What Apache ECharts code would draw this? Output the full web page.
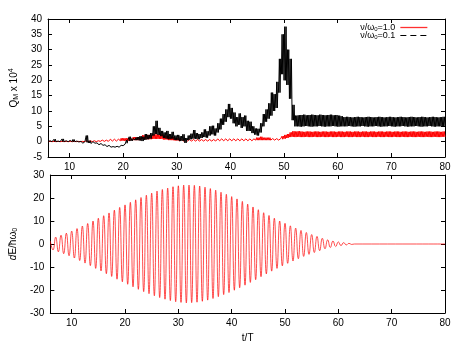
<!DOCTYPE html>
<html>
<head>
<meta charset="utf-8">
<script src="https://cdn.jsdelivr.net/npm/echarts@6.0.0/dist/echarts.min.js"></script>
<style>
  html, body { margin: 0; padding: 0; background: #fff; }
  #chart { width: 463px; height: 348px; }
</style>
</head>
<body>
<div id="chart"></div>
<script>
// sample times for the upper panel (t/T)
var qT = [
  6, 6.5, 7, 7.5, 8, 8.5, 9, 9.5, 10, 10.5, 11, 11.5, 12, 12.5, 13, 13.5, 14, 14.5, 15, 15.5,
  16, 16.5, 17, 17.5, 18, 18.5, 19, 19.5, 20, 20.5, 21, 21.5, 22, 22.5, 23, 23.5, 24, 24.5, 25, 25.5,
  26, 26.5, 27, 27.5, 28, 28.5, 29, 29.5, 30, 30.5, 31, 31.5, 32, 32.5, 33, 33.5, 34, 34.5, 35, 35.5,
  36, 36.5, 37, 37.5, 38, 38.5, 39, 39.5, 40, 40.5, 41, 41.5, 42, 42.5, 43, 43.5, 44, 44.5, 45, 45.5,
  46, 46.5, 47, 47.5, 48, 48.5, 49, 49.5, 50, 50.5, 51, 51.5, 52, 52.5, 53, 53.5, 54, 54.5, 55, 55.5,
  56, 56.5, 57, 57.5, 58, 58.5, 59, 59.5, 60, 60.5, 61, 61.5, 62, 62.5, 63, 63.5, 64, 64.5, 65, 65.5,
  66, 66.5, 67, 67.5, 68, 68.5, 69, 69.5, 70, 70.5, 71, 71.5, 72, 72.5, 73, 73.5, 74, 74.5, 75, 75.5,
  76, 76.5, 77, 77.5, 78, 78.5, 79, 79.5, 80
]

// nu/omega0 = 0.1 (black): lower / upper edge of the fast oscillation, Q_M x 10^4
var blackLo = [
  0, 0, 0, 0, 0, 0, 0, 0, 0, 0, 0, -0.1, -0.2, -0.5, -0.2, -0.4, -0.6, -0.5, -0.8, -1.0,
  -1.2, -1.4, -1.6, -1.8, -1.9, -1.8, -1.8, -1.6, -1.3, -0.5, 0.2, 0.3, 0.5, 0.5, 0.4, 0.2, 0.6, 0.8, 1.0, 2.0,
  2.5, 2.2, 1.8, 1.2, 1.0, 0.8, 1.0, 0.6, 0.5, 0.2, 0.3, -0.4, 0.5, 0.8, 1.0, 0.9, 0.8, 1.2, 1.5, 1.3,
  2.0, 2.4, 2.0, 3.0, 4.0, 5.5, 6.5, 8.0, 7.5, 6.0, 5.0, 5.5, 4.5, 5.0, 3.5, 3.5, 2.8, 2.3, 2.0, 3.0,
  5.0, 6.5, 7.5, 8.5, 10.0, 11.0, 16.0, 22.0, 20.0, 18.5, 14.0, 7.0, 5.0, 5.0, 4.9, 5.0, 5.1, 5.0, 4.9, 5.0,
  5.0, 5.1, 5.0, 4.9, 5.0, 5.0, 5.1, 5.0, 4.9, 5.0, 5.0, 5.0, 5.1, 5.0, 4.9, 5.0, 5.0, 5.1, 5.0, 4.9,
  5.0, 5.0, 5.1, 5.0, 4.9, 5.0, 5.0, 5.1, 5.0, 4.9, 5.0, 5.0, 5.1, 5.0, 4.9, 5.0, 5.0, 5.1, 5.0, 4.9,
  5.0, 5.0, 5.1, 5.0, 4.9, 5.0, 5.0, 5.1, 5.0
]
var blackHi = [
  0.3, 0.2, 0.8, 0.2, 0.3, 0.9, 0.3, 0.2, 0.4, 0.7, 0.2, 0.1, 0.1, 0, 2.0, 0.3, 0, -0.1, -0.4, -0.6,
  -0.8, -1.0, -1.2, -1.4, -1.6, -1.5, -1.4, -1.2, -0.8, 0.5, 1.6, 1.0, 1.3, 1.5, 1.8, 1.6, 2.5, 2.2, 2.8, 5.0,
  6.8, 4.5, 3.5, 3.0, 3.5, 2.5, 3.2, 2.0, 2.2, 1.8, 2.4, 1.2, 2.0, 2.6, 3.8, 2.8, 2.5, 3.0, 4.0, 3.4,
  5.0, 5.2, 4.3, 6.0, 7.5, 9.0, 10.5, 12.3, 11.0, 9.5, 8.0, 9.2, 8.0, 8.5, 6.8, 6.5, 5.0, 4.3, 4.2, 6.0,
  9.0, 10.5, 12.5, 16.0, 15.5, 19.5, 27.0, 35.0, 37.5, 30.0, 27.0, 12.0, 8.5, 8.6, 8.7, 8.8, 8.6, 8.7, 8.8, 8.7,
  8.6, 8.8, 8.7, 8.6, 8.7, 8.8, 8.6, 8.7, 8.5, 8.3, 8.0, 8.1, 8.0, 7.9, 8.0, 8.1, 8.0, 7.9, 8.0, 8.1,
  8.0, 7.9, 8.0, 8.1, 8.0, 7.9, 8.0, 8.1, 8.0, 7.9, 8.0, 8.1, 8.0, 7.9, 8.0, 8.1, 8.0, 7.9, 8.0, 8.1,
  8.0, 7.9, 8.0, 8.1, 8.0, 7.9, 8.0, 8.1, 8.0
]

// nu/omega0 = 1.0 (red): lower / upper edge
var redLo = [
  0, 0, 0, 0, 0, 0, 0, 0, 0, 0, 0, 0, 0, 0, 0, 0, 0, 0, 0, 0.1,
  0.1, 0.1, 0.1, 0.2, 0.2, 0.2, 0.2, 0.3, 0.3, 0.3, 0.3, 0.5, 0.5, 0.5, 0.5, 0.8, 0.8, 0.8, 0.8, 0.9,
  0.9, 0.9, 0.9, 0.7, 0.7, 0.5, 0.5, 0.4, 0.4, 0.2, 0.2, 0.2, 0.2, 0.2, 0.2, 0.2, 0.2, 0.2, 0.2, 0.2,
  0.2, 0.2, 0.2, 0.3, 0.3, 0.3, 0.3, 0.3, 0.3, 0.3, 0.3, 0.3, 0.3, 0.3, 0.3, 0.3, 0.3, 0.5, 0.5, 0.5,
  0.5, 0.5, 0.5, 0.5, 0.5, 0.5, 0.5, 0.8, 1.0, 1.2, 1.5, 1.6, 1.5, 1.6, 1.5, 1.5, 1.6, 1.5, 1.5, 1.6,
  1.5, 1.5, 1.6, 1.5, 1.5, 1.6, 1.5, 1.5, 1.6, 1.5, 1.5, 1.6, 1.5, 1.5, 1.6, 1.5, 1.5, 1.6, 1.5, 1.5,
  1.6, 1.5, 1.5, 1.6, 1.5, 1.5, 1.6, 1.5, 1.5, 1.6, 1.5, 1.5, 1.6, 1.5, 1.5, 1.6, 1.5, 1.5, 1.6, 1.5,
  1.5, 1.6, 1.5, 1.5, 1.6, 1.5, 1.5, 1.6, 1.5
]
var redHi = [
  0.1, 0.1, 0.1, 0.1, 0.1, 0.1, 0.1, 0.1, 0.1, 0.1, 0.1, 0.1, 0.1, 0.3, 0.3, 0.3, 0.3, 0.3, 0.3, 0.5,
  0.5, 0.5, 0.5, 0.8, 0.8, 0.8, 0.8, 1.1, 1.1, 1.1, 1.1, 1.5, 1.5, 1.5, 1.5, 2.1, 2.1, 2.2, 2.1, 2.4,
  2.4, 2.3, 2.4, 1.9, 1.9, 1.5, 1.5, 1.1, 1.1, 0.7, 0.7, 0.7, 0.7, 0.7, 0.7, 0.7, 0.7, 0.7, 0.7, 0.7,
  0.7, 0.7, 0.7, 0.9, 0.9, 0.9, 0.9, 0.9, 0.9, 0.9, 0.9, 0.9, 0.9, 0.9, 0.9, 0.9, 0.9, 1.3, 1.3, 1.6,
  1.3, 1.3, 1.3, 1.0, 1.0, 1.0, 1.0, 1.8, 2.2, 2.5, 3.0, 3.4, 3.3, 3.4, 3.3, 3.2, 3.3, 3.3, 3.2, 3.3,
  3.3, 3.2, 3.3, 3.3, 3.2, 3.3, 3.3, 3.2, 3.3, 3.3, 3.2, 3.3, 3.3, 3.2, 3.3, 3.3, 3.2, 3.3, 3.3, 3.2,
  3.3, 3.3, 3.2, 3.3, 3.3, 3.2, 3.3, 3.3, 3.2, 3.3, 3.3, 3.2, 3.3, 3.3, 3.2, 3.3, 3.3, 3.2, 3.3, 3.3,
  3.2, 3.3, 3.3, 3.2, 3.3, 3.3, 3.2, 3.3, 3.3
]

// lower panel: extrema of dE/hbar omega0 and their times
var dET = [
  6, 6.5, 7, 7.5, 8, 8.5, 9, 9.5, 10, 10.5, 11, 11.5, 12, 12.5, 13, 13.5, 14, 14.5, 15, 15.5,
  16, 16.5, 17, 17.5, 18, 18.5, 19, 19.5, 20, 20.5, 21, 21.5, 22, 22.5, 23, 23.5, 24, 24.5, 25, 25.5,
  26, 26.5, 27, 27.5, 28, 28.5, 29, 29.5, 30, 30.5, 31, 31.5, 32, 32.5, 33, 33.5, 34, 34.5, 35, 35.5,
  36, 36.5, 37, 37.5, 38, 38.5, 39, 39.5, 40, 40.5, 41, 41.5, 42, 42.5, 43, 43.5, 44, 44.5, 45, 45.5,
  46, 46.5, 47, 47.5, 48, 48.5, 49, 49.5, 50, 50.5, 51, 51.5, 52, 52.5, 53, 53.5, 54, 54.5, 55, 55.5,
  56, 56.5, 57, 57.5, 58, 58.5, 59, 59.5, 60, 60.5, 61, 61.5, 62, 62.5, 63, 80
]
var dEV = [
  1.2, -2.6, 3.0, -3.4, 3.8, -4.2, 4.7, -5.1, 5.6, -6.1, 6.7, -7.2, 7.8, -8.3, 8.9, -9.4, 10.0, -10.6, 11.2, -11.7,
  12.3, -12.9, 13.5, -14.1, 14.7, -15.3, 15.9, -16.4, 17.0, -17.5, 18.1, -18.6, 19.2, -19.7, 20.2, -20.7, 21.2, -21.6, 22.1, -22.5,
  23.0, -23.3, 23.7, -24.0, 24.3, -24.6, 24.9, -25.1, 25.3, -25.4, 25.6, -25.6, 25.6, -25.5, 25.5, -25.3, 25.2, -24.9, 24.7, -24.4,
  24.1, -23.7, 23.4, -22.9, 22.5, -22.0, 21.6, -21.1, 20.6, -20.1, 19.6, -19.0, 18.5, -17.9, 17.3, -16.7, 16.1, -15.5, 14.9, -14.2,
  13.6, -13.0, 12.4, -11.8, 11.2, -10.6, 10.0, -9.5, 9.0, -8.4, 7.9, -7.4, 6.9, -6.4, 5.9, -5.4, 5.0, -4.5, 4.1, -3.7,
  3.3, -2.9, 2.5, -2.1, 1.8, -1.5, 1.3, -1.1, 0.9, -0.7, 0.6, -0.4, 0.3, -0.2, 0, 0
]

var name10 = 'ν/ω0=1.0'
var name01 = 'ν/ω0=0.1'
var font = 'Liberation Sans, Arial, sans-serif'

// fast oscillation between the two edges of each sample
function band(lo, hi, sub) {
  var pts = []
  for (var i = 0; i < qT.length; i++) {
    for (var j = 0; j < sub; j++) {
      var t = qT[i] + j * 0.5 / sub
      if (t > 80) break
      pts.push([t, j % 2 ? hi[i] : lo[i]])
    }
  }
  return pts
}

var richText = {
  a: { fontSize: 10, lineHeight: 12, color: '#000', fontFamily: font },
  i: { fontSize: 10, lineHeight: 12, color: '#000', fontFamily: font, fontStyle: 'italic' },
  s: { fontSize: 7, lineHeight: 4, color: '#000', fontFamily: font, verticalAlign: 'bottom' },
  p: { fontSize: 7, lineHeight: 4, color: '#000', fontFamily: font, verticalAlign: 'top' }
}

function xAx(grid, pos, labels, name) {
  return {
    type: 'value', gridIndex: grid, position: pos, min: 6, max: 80, splitNumber: 7,
    axisLine: { onZero: false, lineStyle: { color: '#000', width: 1 } },
    axisTick: { inside: true, length: 4, lineStyle: { color: '#000' } },
    axisLabel: { show: labels, showMinLabel: false, color: '#000', fontSize: 10, fontFamily: font, margin: 5 },
    splitLine: { show: false },
    name: name || '', nameLocation: 'middle', nameGap: 20,
    nameTextStyle: { color: '#000', fontSize: 10, fontFamily: font }
  }
}

function yAx(grid, pos, labels, min, max, step, name) {
  return {
    type: 'value', gridIndex: grid, position: pos, min: min, max: max, interval: step,
    axisLine: { show: true, onZero: false, lineStyle: { color: '#000', width: 1 } },
    axisTick: { show: true, inside: true, length: 4, lineStyle: { color: '#000' } },
    axisLabel: { show: labels, color: '#000', fontSize: 10, fontFamily: font, margin: 6 },
    splitLine: { show: false },
    name: name || '', nameLocation: 'middle', nameGap: 25,
    nameTextStyle: { color: '#000', fontSize: 10, fontFamily: font, rich: richText }
  }
}

var chart = echarts.init(document.getElementById('chart'))
chart.setOption({
  animation: false,
  backgroundColor: '#fff',
  grid: [
    { left: 41, top: 19, width: 404, height: 138 },
    { left: 41, top: 175, width: 404, height: 138 }
  ],
  xAxis: [
    xAx(0, 'bottom', true),
    xAx(0, 'top', false),
    xAx(1, 'bottom', true, 't/T'),
    xAx(1, 'top', false)
  ],
  yAxis: [
    yAx(0, 'left', true, -5, 40, 5, '{a|Q}{s|M}{a| x 10}{p|4}'),
    yAx(0, 'right', false, -5, 40, 5),
    yAx(1, 'left', true, -30, 30, 10, '{i|d}{a|E/ħω}{s|0}'),
    yAx(1, 'right', false, -30, 30, 10)
  ],
  legend: {
    orient: 'vertical', right: 30, top: 18, align: 'right',
    itemWidth: 27, itemHeight: 8, itemGap: -1,
    itemStyle: { color: 'transparent', borderColor: 'transparent', borderWidth: 0, opacity: 0 },
    data: [
      { name: name10, lineStyle: { type: 'solid', color: '#ff3030', width: 1.3 } },
      { name: name01, lineStyle: { type: [6, 4], color: '#000', width: 1 } }
    ],
    formatter: function (n) {
      return '{a|ν/ω}{s|0}{a|=' + n.split('=')[1] + '}'
    },
    textStyle: { rich: {
      a: { fontSize: 9, lineHeight: 9, color: '#000', fontFamily: font },
      s: { fontSize: 6, lineHeight: 2, color: '#000', fontFamily: font, verticalAlign: 'bottom' }
    } }
  },
  series: [
    {
      name: name10, type: 'line', xAxisIndex: 0, yAxisIndex: 0,
      data: band(redLo, redHi, 4), symbol: 'none', color: '#ff0000',
      lineStyle: { color: '#ff0000', width: 1 }, itemStyle: { color: '#ff0000' }
    },
    {
      name: name01, type: 'line', xAxisIndex: 0, yAxisIndex: 0,
      data: band(blackLo, blackHi, 4), symbol: 'none', color: '#000',
      lineStyle: { color: '#000', width: 1 }, itemStyle: { color: '#000' }
    },
    {
      name: 'dE', type: 'line', xAxisIndex: 2, yAxisIndex: 2,
      data: dET.map(function (t, i) { return [t, dEV[i]] }), symbol: 'none', smooth: true,
      lineStyle: { color: '#ff0000', width: 0.7 }, itemStyle: { color: '#ff0000' }
    }
  ]
})
</script>
</body>
</html>
